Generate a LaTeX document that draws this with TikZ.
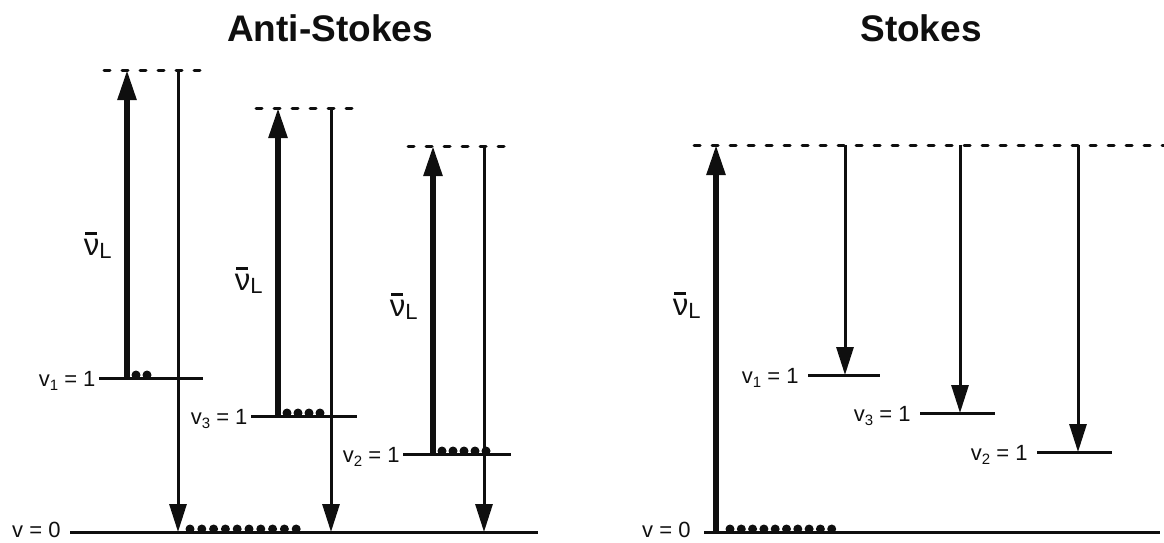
\documentclass[tikz,border=0pt]{standalone}
\usepackage{fontspec}
\setmainfont{Liberation Sans}
\usetikzlibrary{arrows.meta}
\definecolor{ink}{RGB}{15,15,15}
\newcommand{\vlev}[2]{v\raisebox{-4pt}{\fontsize{15}{15}\selectfont #1} = #2}
\newcommand{\nuL}{\rlap{\hspace{1.5pt}\rule[20pt]{12pt}{3pt}}ν\raisebox{-3pt}{\fontsize{22}{22}\selectfont L}}
\tikzset{
  every picture/.style={color=ink, line width=3pt, x=1pt, y=-1pt},
  level/.style={line width=3pt},
  virt/.style={line width=3pt, dash pattern=on 6pt off 12pt, line cap=round},
  pump/.style={-{Triangle[length=30pt,width=18pt]}, line width=5.5pt},
  scat/.style={-{Triangle[length=28pt,width=17pt]}, line width=3pt},
  title/.style={font=\fontsize{37}{40}\selectfont\bfseries, anchor=base, inner sep=0pt},
  lbl/.style={font=\fontsize{22}{24}\selectfont, inner sep=0pt, anchor=east},
  nulbl/.style={font=\fontsize{31}{31}\selectfont, inner sep=0pt, anchor=east},
  pop/.style={fill=ink, draw=none},
}

\begin{document}
\begin{tikzpicture}
  \useasboundingbox (0,0) rectangle (1164,542);
  \node[title] (tas) at (330,41) {Anti-Stokes};
  \node[title] (tst) at (921,41) {Stokes};

  % anti-Stokes: ground level
  \coordinate (ag0l) at (70,532);
  \coordinate (ag0r) at (538,532);
  \draw[level] (ag0l) -- (ag0r);
  \node[lbl] (ag0) at (62,530) {v = 0};
  \foreach \i in {0,...,9}
    \fill[pop] ({190+11.8*\i},529) circle (4.5pt);

  % anti-Stokes: one column per mode
  \foreach \m/\xp/\xs/\yv/\yl/\xl/\xr/\ny/\np in {1/127/178/70/378/99/203/245/2,
      3/278/331/108/416/251/357/280/4, 2/433/484/146/454/403/511/306/5}{
    \coordinate (avl\m) at (\xl+5,\yv);
    \coordinate (avr\m) at (\xr+3,\yv);
    \coordinate (al\m) at (\xl,\yl);
    \coordinate (ar\m) at (\xr,\yl);
    \coordinate (ap\m) at (\xp,\yl);
    \coordinate (at\m) at (\xp,\yv);
    \coordinate (as\m) at (\xs,\yv);
    \coordinate (ag\m) at (\xs,532);
    \draw[virt] (avl\m) -- (avr\m);
    \draw[level] (al\m) -- (ar\m);
    \draw[pump] (ap\m) -- (at\m);
    \draw[scat] (as\m) -- (ag\m);
    \node[lbl] (alab\m) at (\xl-2,\yl+3) {\vlev{\m}{1}};
    \node[nulbl] (anu\m) at (\xp-14,\ny) {\nuL};
    \foreach \i in {1,...,\np}
      \fill[pop] ({\xp+9+11*(\i-1)},\yl-3) circle (4.5pt);
  }

  % Stokes: ground level and pump
  \coordinate (sg0l) at (704,532);
  \coordinate (sg0r) at (1160,532);
  \draw[level] (sg0l) -- (sg0r);
  \node[lbl] (sg0) at (692,530) {v = 0};
  \foreach \i in {0,...,9}
    \fill[pop] ({730+11.3*\i},529) circle (4.5pt);
  \coordinate (svl) at (694,145);
  \coordinate (svr) at (1164,145);
  \draw[virt] (svl) -- (svr);
  \coordinate (spb) at (716,532);
  \coordinate (spt) at (716,145);
  \draw[pump] (spb) -- (spt);
  \node[nulbl] (snu) at (702,305) {\nuL};

  % Stokes: one line per mode
  \foreach \m/\xs/\yl/\xl/\xr in {1/845/375/808/880, 3/960/413/920/995, 2/1078/452/1037/1112}{
    \coordinate (sl\m) at (\xl,\yl);
    \coordinate (sr\m) at (\xr,\yl);
    \coordinate (ss\m) at (\xs,145);
    \coordinate (se\m) at (\xs,\yl);
    \draw[level] (sl\m) -- (sr\m);
    \draw[scat] (ss\m) -- (se\m);
    \node[lbl] (slab\m) at (\xl-8,\yl+3) {\vlev{\m}{1}};
  }
\end{tikzpicture}
\end{document}
